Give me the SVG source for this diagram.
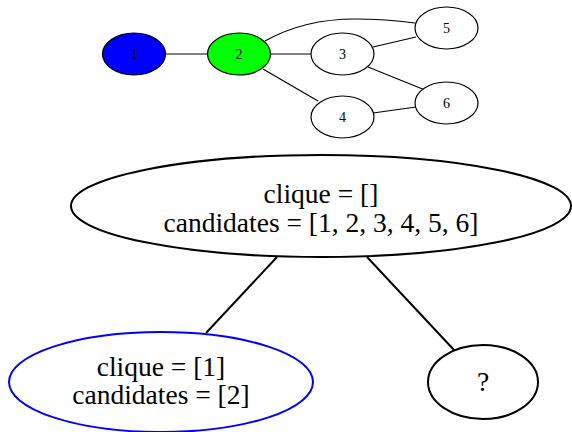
<svg xmlns="http://www.w3.org/2000/svg" width="572" height="432" viewBox="0 0 572 432">
  <style>
    text { font-family: "Liberation Serif", "DejaVu Serif", serif; fill: #000; text-anchor: middle; }
    .small ellipse { stroke: #000; stroke-width: 1.2; fill: #fff; }
    .small text { font-size: 14px; }
    .small .edge { stroke: #000; stroke-width: 1.2; fill: none; }
    .tree ellipse { stroke: #000; stroke-width: 2; fill: #fff; }
    .tree text { font-size: 27.5px; }
    .tree .edge { stroke: #000; stroke-width: 2; fill: none; }
  </style>

  <!-- Input graph -->
  <g class="small" font-family="Liberation Serif, serif">
    <g id="graph-edges">
      <line class="edge" x1="166" y1="54" x2="208" y2="54"/>
      <line class="edge" x1="270" y1="54" x2="311" y2="54"/>
      <path class="edge" d="M265,41 C290,27 320,19 355,19 C380,19 400,21 415,23"/>
      <line class="edge" x1="263" y1="69" x2="318" y2="101"/>
      <line class="edge" x1="373" y1="47" x2="416" y2="37"/>
      <line class="edge" x1="368" y1="67" x2="425" y2="90"/>
      <line class="edge" x1="373" y1="113" x2="416" y2="107"/>
    </g>
    <g id="v1">
      <ellipse cx="134" cy="54" rx="31.5" ry="21" style="fill:#0000ff"/>
      <text x="134" y="59">1</text>
    </g>
    <g id="v2">
      <ellipse cx="239" cy="54" rx="31.5" ry="21" style="fill:#00ff00"/>
      <text x="239" y="59">2</text>
    </g>
    <g id="v3">
      <ellipse cx="342.5" cy="54" rx="31.5" ry="21"/>
      <text x="342.5" y="59">3</text>
    </g>
    <g id="v4">
      <ellipse cx="342.5" cy="117" rx="31.5" ry="21"/>
      <text x="342.5" y="122">4</text>
    </g>
    <g id="v5">
      <ellipse cx="446.5" cy="28" rx="31.5" ry="21"/>
      <text x="446.5" y="33">5</text>
    </g>
    <g id="v6">
      <ellipse cx="446.5" cy="103" rx="31.5" ry="21"/>
      <text x="446.5" y="108">6</text>
    </g>
  </g>

  <!-- Search tree -->
  <g class="tree">
    <g id="tree-edges">
      <line class="edge" x1="277" y1="257" x2="206" y2="333"/>
      <line class="edge" x1="367" y1="257" x2="455" y2="351"/>
    </g>
    <g id="root">
      <ellipse cx="321" cy="206" rx="250" ry="51"/>
      <text x="321" y="203">clique = []</text>
      <text x="321" y="232">candidates = [1, 2, 3, 4, 5, 6]</text>
    </g>
    <g id="branch-1">
      <ellipse cx="161" cy="382" rx="152" ry="50" style="stroke:#0000ff"/>
      <text x="161" y="376">clique = [1]</text>
      <text x="161" y="404">candidates = [2]</text>
    </g>
    <g id="branch-rest">
      <ellipse cx="483" cy="382" rx="55" ry="37"/>
      <text x="483" y="391">?</text>
    </g>
  </g>
</svg>
